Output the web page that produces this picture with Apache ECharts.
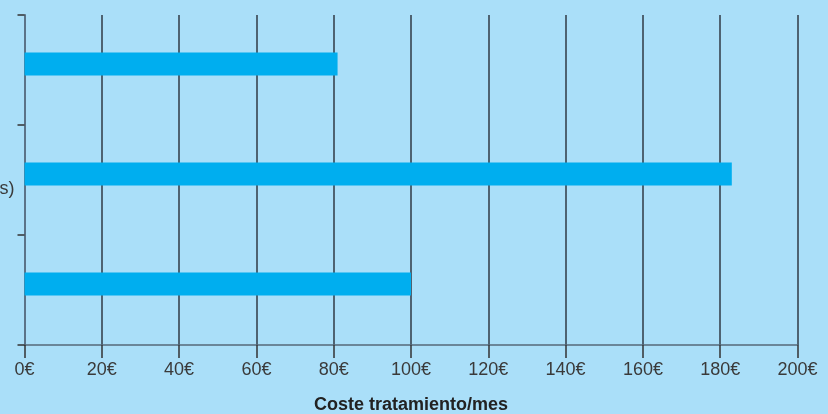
<!DOCTYPE html>
<html>
<head>
<meta charset="utf-8">
<script src="https://cdn.jsdelivr.net/npm/echarts@6/dist/echarts.min.js"></script>
<style>
html,body{margin:0;padding:0;background:#aadff9;}
#c{width:828px;height:414px;}
</style>
</head>
<body>
<div id="c"></div>
<script>
// top-to-bottom order
var categories = ['', '(2 comprimidos)', ''];
var values = [81, 183, 100];
var xTicks = [0, 20, 40, 60, 80, 100, 120, 140, 160, 180, 200];
var xTitle = 'Coste tratamiento/mes';

var chart = echarts.init(document.getElementById('c'), null, {renderer: 'canvas'});
var font = '"Liberation Sans", Arial, Helvetica, sans-serif';
chart.setOption({
  backgroundColor: '#aadff9',
  animation: false,
  grid: [
    {left: 24.5, right: 30.5, top: 15, bottom: 69, containLabel: false, outerBoundsMode: 'none'},
    {left: 24.5, right: 30.5, top: 9, bottom: 75, containLabel: false, outerBoundsMode: 'none'}
  ],
  xAxis: [
    {
      gridIndex: 0, type: 'value', min: xTicks[0], max: xTicks[xTicks.length - 1], interval: 20,
      axisLine: {show: true, lineStyle: {color: '#56697a', width: 1.5}},
      axisTick: {show: true, length: 13, lineStyle: {color: '#333', width: 1.5}},
      axisLabel: {margin: 16, color: '#3a3a3a', fontSize: 18, fontFamily: font, formatter: '{value}€'},
      splitLine: {show: true, lineStyle: {color: '#2f3a44', width: 1.5}},
      name: xTitle, nameLocation: 'middle', nameGap: 51,
      nameTextStyle: {color: '#222', fontSize: 18, fontWeight: 'bold', fontFamily: font}
    },
    {
      gridIndex: 1, type: 'value', min: xTicks[0], max: xTicks[xTicks.length - 1], interval: 20,
      show: false, splitLine: {show: false}
    }
  ],
  yAxis: [
    {
      gridIndex: 0, type: 'category', data: categories, inverse: true,
      axisLine: {show: true, lineStyle: {color: '#5b7388', width: 2}},
      axisTick: {show: true, length: 7, lineStyle: {color: '#333', width: 1.5}},
      axisLabel: {margin: 10, color: '#3a3a3a', fontSize: 18, lineHeight: 18, fontFamily: font, verticalAlign: 'top'},
      splitLine: {show: false}
    },
    {
      gridIndex: 1, type: 'category', data: categories, inverse: true, show: false
    }
  ],
  series: [{
    type: 'bar', xAxisIndex: 1, yAxisIndex: 1,
    data: values, barWidth: 23,
    itemStyle: {color: '#00aeef'}
  }]
});
</script>
</body>
</html>
